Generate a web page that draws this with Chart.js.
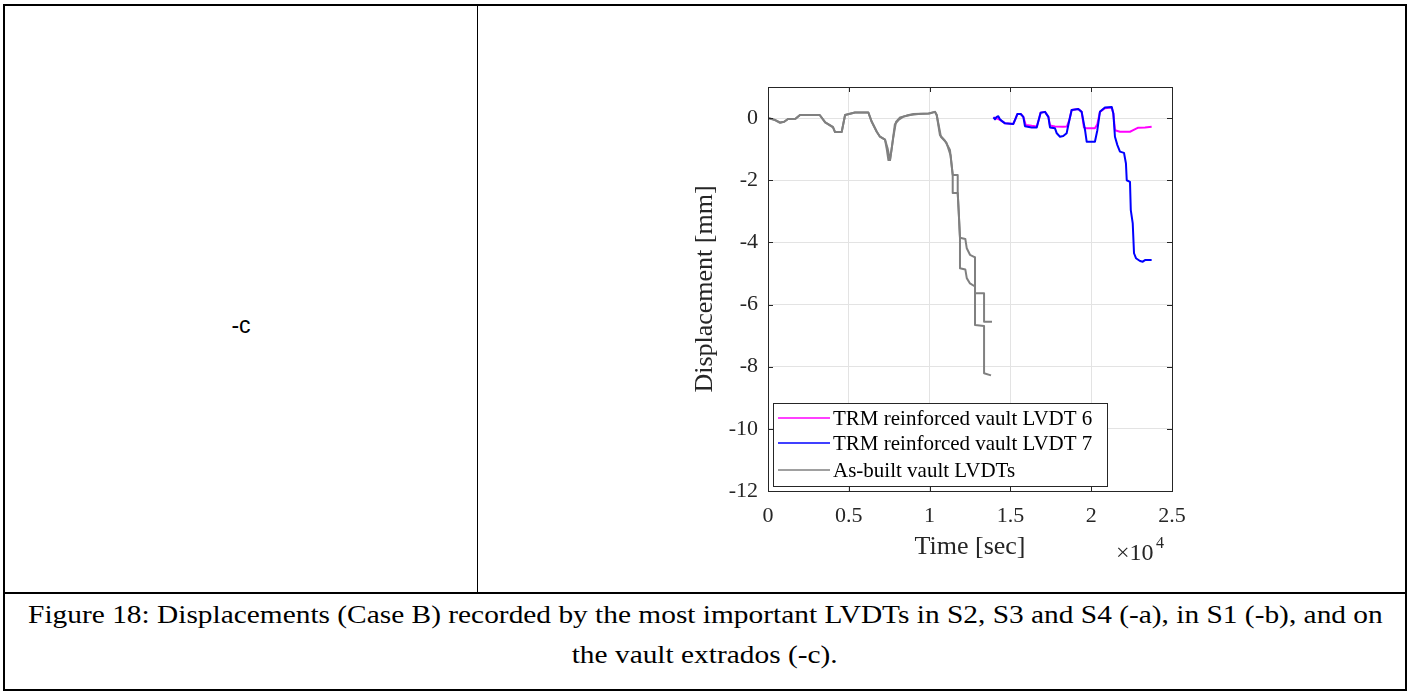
<!DOCTYPE html>
<html>
<head>
<meta charset="utf-8">
<script src="https://cdn.jsdelivr.net/npm/chart.js@4.4.0/dist/chart.umd.min.js"></script>
<style>
    body { margin: 0; background: #fff; }
    #page { position: relative; width: 1412px; height: 693px; overflow: hidden; }
    .rule { position: absolute; background: #000; }
    #cell-c { position: absolute; left: 5px; top: 310px; width: 472px; text-align: center; font-family: "Liberation Sans", sans-serif; font-size: 23px; line-height: 30px; }
    #caption { position: absolute; left: 5px; top: 595px; width: 1400px; text-align: center; font-family: "Liberation Serif", serif; font-size: 26px; line-height: 40px; white-space: nowrap; }
    #caption span { display: inline-block; transform: scaleX(1.13); }
    #chart { position: absolute; left: 0; top: 0; }
</style>
</head>
<body>
<div id="page">
    <div class="rule" style="left:3px;top:4px;width:1404px;height:2px"></div>
    <div class="rule" style="left:3px;top:4px;width:2px;height:687px"></div>
    <div class="rule" style="left:1405px;top:4px;width:2px;height:687px"></div>
    <div class="rule" style="left:3px;top:689px;width:1404px;height:2px"></div>
    <div class="rule" style="left:477px;top:4px;width:1px;height:589px"></div>
    <div class="rule" style="left:3px;top:592px;width:1404px;height:2px"></div>
    <div id="cell-c">-c</div>
    <div id="caption"><span>Figure 18: Displacements (Case B) recorded by the most important LVDTs in S2, S3 and S4 (-a), in S1 (-b), and on</span><br><span>the vault extrados (-c).</span></div>
    <canvas id="chart" width="1412" height="693"></canvas>
</div>
<script>
// time [sec] and displacement [mm]
var asBuiltA_t = [0, 400, 740, 1000, 1240, 1700, 1980, 3200, 3540, 4020, 4150, 4560, 4770, 5380, 6210, 6420, 6730, 6930, 7240, 7340, 7450, 7550, 7760, 7920, 8170, 8580, 9000, 9920, 10330, 10440, 10640, 10950, 11260, 11430, 11430, 11740, 11800, 11880, 11880, 12210, 12300, 12500, 12810, 12810, 13370, 13370, 13800];
var asBuiltA_d = [0, -0.05, -0.14, -0.12, -0.03, -0.02, 0.1, 0.1, -0.14, -0.28, -0.45, -0.45, 0.1, 0.18, 0.18, -0.12, -0.44, -0.6, -0.69, -0.97, -1.35, -1.35, -0.6, -0.12, 0.02, 0.08, 0.13, 0.15, 0.2, 0.1, -0.55, -0.73, -1.03, -1.83, -2.41, -2.41, -3.0, -3.85, -4.83, -4.87, -5.15, -5.32, -5.42, -6.66, -6.69, -8.21, -8.28];

var asBuiltB_t = [0, 400, 740, 1000, 1240, 1700, 1980, 3200, 3540, 4020, 4150, 4560, 4770, 5380, 6210, 6420, 6730, 6930, 7240, 7400, 7550, 7650, 7850, 8100, 8400, 8800, 9300, 10000, 10330, 10440, 10700, 11050, 11300, 11430, 11740, 11740, 11800, 11880, 12210, 12300, 12500, 12810, 12810, 13370, 13370, 13860];
var asBuiltB_d = [0, -0.06, -0.15, -0.12, -0.03, -0.02, 0.1, 0.1, -0.14, -0.3, -0.45, -0.45, 0.1, 0.18, 0.18, -0.12, -0.44, -0.6, -0.69, -0.97, -1.35, -1.0, -0.2, -0.05, 0.05, 0.1, 0.13, 0.15, 0.2, 0.1, -0.6, -0.8, -1.2, -1.83, -1.83, -2.41, -3.0, -3.85, -3.89, -4.19, -4.4, -4.48, -5.64, -5.64, -6.55, -6.55];

var lvdt6_t = [13950, 14200, 14460, 14670, 15180, 15300, 15430, 15640, 15800, 15950, 16320, 16630, 16750, 16870, 17140, 17350, 17450, 17760, 18270, 18500, 18650, 18790, 19200, 19410, 19550, 19720, 20230, 20380, 20540, 20850, 21270, 21370, 21470, 21780, 22400, 22600, 22910, 23330, 23740];
var lvdt6_d = [0.02, -0.02, -0.09, -0.17, -0.19, -0.04, 0.13, 0.13, 0.04, -0.22, -0.25, -0.27, -0.06, 0.17, 0.2, 0.04, -0.24, -0.27, -0.28, -0.27, -0.06, 0.26, 0.29, 0.2, -0.3, -0.33, -0.33, -0.2, 0.2, 0.32, 0.34, 0.15, -0.39, -0.44, -0.44, -0.39, -0.31, -0.3, -0.28];

var lvdt7_t = [13950, 14050, 14150, 14250, 14350, 14460, 14670, 15180, 15300, 15430, 15640, 15800, 15900, 16320, 16630, 16750, 16870, 17140, 17350, 17450, 17760, 17870, 18070, 18270, 18480, 18650, 18790, 19200, 19410, 19620, 19720, 20230, 20380, 20540, 20850, 21270, 21370, 21470, 21620, 21780, 22030, 22150, 22200, 22400, 22450, 22570, 22650, 22770, 23020, 23190, 23330, 23740];
var lvdt7_d = [0.02, -0.04, 0.04, 0.06, -0.04, -0.09, -0.17, -0.19, -0.04, 0.13, 0.13, 0.04, -0.26, -0.3, -0.3, -0.06, 0.17, 0.2, 0.04, -0.3, -0.33, -0.49, -0.6, -0.58, -0.49, -0.06, 0.26, 0.29, 0.2, -0.39, -0.76, -0.76, -0.39, 0.2, 0.34, 0.36, 0.15, -0.6, -0.87, -1.08, -1.12, -1.46, -2.0, -2.05, -2.96, -3.39, -4.35, -4.51, -4.6, -4.62, -4.57, -4.57];

var xTicks = [0, 5000, 10000, 15000, 20000, 25000];
var yTicks = [-12, -10, -8, -6, -4, -2, 0];

var SERIF = '"Liberation Serif", serif';
var AXIS = '#262626';

function pts(t, d) {
    return t.map(function (v, i) { return { x: v, y: d[i] }; });
}

function line(label, color, data, order, inLegend) {
    return {
        label: label, data: data, borderColor: color, backgroundColor: color,
        borderWidth: 2, pointRadius: 0, tension: 0, fill: false, order: order,
        borderJoinStyle: 'round', inLegend: inLegend
    };
}

// box, inward ticks, legend inside the axes and the x10^4 exponent
var matlabAxes = {
    id: 'matlabAxes',
    afterDraw: function (chart) {
        var ctx = chart.ctx, a = chart.chartArea;
        var xs = chart.scales.x, ys = chart.scales.y;
        ctx.save();
        ctx.strokeStyle = AXIS;
        ctx.lineWidth = 1;
        ctx.strokeRect(Math.round(a.left) + 0.5, Math.round(a.top) + 0.5, Math.round(a.right - a.left), Math.round(a.bottom - a.top));
        ctx.beginPath();
        xTicks.forEach(function (v) {
            var px = Math.round(xs.getPixelForValue(v)) + 0.5;
            ctx.moveTo(px, a.bottom); ctx.lineTo(px, a.bottom - 5);
            ctx.moveTo(px, a.top); ctx.lineTo(px, a.top + 5);
        });
        yTicks.forEach(function (v) {
            var py = Math.round(ys.getPixelForValue(v)) + 0.5;
            ctx.moveTo(a.left, py); ctx.lineTo(a.left + 5, py);
            ctx.moveTo(a.right, py); ctx.lineTo(a.right - 5, py);
        });
        ctx.stroke();

        // legend
        var lx = Math.round(a.left) + 5, ly = Math.round(a.bottom) - 88;
        ctx.fillStyle = '#fff';
        ctx.fillRect(lx, ly, 334, 83);
        ctx.strokeRect(lx + 0.5, ly + 0.5, 334, 83);
        var items = chart.data.datasets.filter(function (d) { return d.inLegend; });
        var rows = [15, 40, 67];
        ctx.font = '21px ' + SERIF;
        ctx.textBaseline = 'middle';
        ctx.textAlign = 'left';
        items.forEach(function (d, i) {
            var y = ly + rows[i];
            ctx.strokeStyle = d.borderColor;
            ctx.lineWidth = 1.5;
            ctx.beginPath();
            ctx.moveTo(lx + 5, y); ctx.lineTo(lx + 57, y);
            ctx.stroke();
            ctx.fillStyle = '#000';
            ctx.fillText(d.label, lx + 60, y + 1);
        });

        // exponent
        ctx.fillStyle = AXIS;
        ctx.textBaseline = 'alphabetic';
        ctx.font = '24px ' + SERIF;
        ctx.fillText('\u00d710', a.right - 56, a.bottom + 69);
        ctx.font = '16px ' + SERIF;
        ctx.fillText('4', a.right - 16, a.bottom + 57);
        ctx.restore();
    }
};

var ctx = document.getElementById('chart');
var myChart = new Chart(ctx, {
    type: 'line',
    data: {
        datasets: [
            line('TRM reinforced vault LVDT 6', '#ff00ff', pts(lvdt6_t, lvdt6_d), 1, true),
            line('TRM reinforced vault LVDT 7', '#0000ff', pts(lvdt7_t, lvdt7_d), 0, true),
            line('As-built vault LVDTs', '#808080', pts(asBuiltA_t, asBuiltA_d), 2, true),
            line('As-built vault LVDTs', '#808080', pts(asBuiltB_t, asBuiltB_d), 3, false)
        ]
    },
    options: {
        responsive: false,
        animation: false,
        layout: { padding: { left: 690, right: 240, top: 87, bottom: 122 } },
        plugins: { legend: { display: false }, tooltip: { enabled: false } },
        scales: {
            x: {
                type: 'linear', min: 0, max: 25000,
                afterBuildTicks: function (s) { s.ticks = xTicks.map(function (v) { return { value: v }; }); },
                afterFit: function (s) { s.height = 80; },
                ticks: {
                    callback: function (v) { return String(v / 10000); },
                    font: { family: SERIF, size: 22 }, color: AXIS, padding: 12, maxRotation: 0
                },
                grid: { color: '#e3e3e3', drawTicks: false },
                border: { display: false },
                title: { display: true, text: 'Time [sec]', font: { family: SERIF, size: 26 }, color: AXIS, padding: { top: 0, bottom: 8 } }
            },
            y: {
                type: 'linear', min: -12, max: 1,
                afterBuildTicks: function (s) { s.ticks = yTicks.map(function (v) { return { value: v }; }); },
                afterFit: function (s) { s.width = 78; },
                ticks: { font: { family: SERIF, size: 22 }, color: AXIS, padding: 10 },
                grid: { color: '#e3e3e3', drawTicks: false },
                border: { display: false },
                title: { display: true, text: 'Displacement [mm]', font: { family: SERIF, size: 26 }, color: AXIS, padding: { top: 0, bottom: 0 } }
            }
        }
    },
    plugins: [matlabAxes]
});
</script>
</body>
</html>
